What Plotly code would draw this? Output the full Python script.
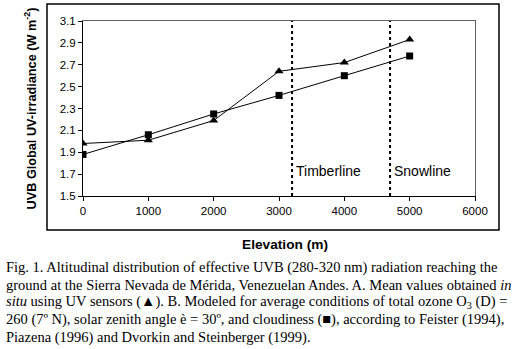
import plotly.graph_objects as go

elevation = [0, 1000, 2000, 3000, 4000, 5000]
measured_insitu = [1.98, 2.01, 2.19, 2.64, 2.72, 2.93]
modeled = [1.88, 2.06, 2.25, 2.42, 2.60, 2.78]
ref_lines = {"Timberline": 3200, "Snowline": 4700}
caption_lines = [
    "Fig. 1. Altitudinal distribution of effective UVB (280-320 nm) radiation reaching the",
    "ground at the Sierra Nevada de Mérida, Venezuelan Andes. A. Mean values obtained <i>in</i>",
    "<i>situ</i> using UV sensors (▲). B. Modeled for average conditions of total ozone O<sub>3</sub> (D) =",
    "260 (7º N), solar zenith angle è = 30º, and cloudiness (■), according to Feister (1994),",
    "Piazena (1996) and Dvorkin and Steinberger (1999).",
]

W, H = 521, 349
# outer chart frame (pixels)
FL, FR, FT, FB = 47, 499, 4, 230
# inner plot area (pixels)
PL, PR, PT, PB = 83, 475, 21, 196
FW, FH = FR - FL, FB - FT


def px(x):
    return (x - FL) / FW


def py(y):
    return (FB - y) / FH


fig = go.Figure()
fig.add_trace(go.Scatter(x=elevation, y=measured_insitu, mode="lines+markers",
                         line=dict(color="black", width=1),
                         marker=dict(symbol="triangle-up", size=8, color="black"),
                         showlegend=False))
fig.add_trace(go.Scatter(x=elevation, y=modeled, mode="lines+markers",
                         line=dict(color="black", width=1),
                         marker=dict(symbol="square", size=7, color="black"),
                         showlegend=False))
# empty helper trace so the grey top/right border axes are drawn
fig.add_trace(go.Scatter(x=[None], y=[None], xaxis="x3", yaxis="y3", showlegend=False, hoverinfo="skip"))

shapes = [
    # outer chart frame = the whole margin-bounded area
    dict(type="rect", xref="paper", yref="paper", x0=0, x1=1, y0=0, y1=1,
         line=dict(color="black", width=1.5), fillcolor="rgba(0,0,0,0)", layer="above"),
]
annotations = []
for name, xv in ref_lines.items():
    shapes.append(dict(type="line", xref="x", yref="y", x0=xv, x1=xv, y0=1.5, y1=3.1,
                       line=dict(color="black", width=2, dash="dot")))
    annotations.append(dict(x=xv, y=1.73, xref="x", yref="y", text=name, showarrow=False,
                            xanchor="left", yanchor="middle", xshift=2,
                            font=dict(family="Liberation Sans, Arial", size=14, color="black")))

annotations.append(dict(x=px(285), y=py(244), xref="paper", yref="paper",
                        text="<b>Elevation (m)</b>",
                        showarrow=False, xanchor="center", yanchor="middle",
                        font=dict(family="Liberation Sans, Arial", size=13.7, color="black")))

cap_y = [267, 284.5, 302, 319.5, 337]
for t, yy in zip(caption_lines, cap_y):
    annotations.append(dict(x=px(4), y=py(yy), xref="paper", yref="paper", text=t, showarrow=False,
                            xanchor="left", yanchor="middle",
                            font=dict(family="Liberation Serif, Times New Roman", size=14.5, color="black")))

xdom = [px(PL), px(PR)]
ydom = [py(PB), py(PT)]
hidden = dict(showticklabels=False, ticks="", showgrid=False, zeroline=False, fixedrange=True)

fig.update_layout(
    width=W, height=H,
    margin=dict(l=FL, r=W - FR, t=FT, b=H - FB, pad=0),
    paper_bgcolor="white", plot_bgcolor="rgba(0,0,0,0)",
    font=dict(family="Liberation Sans, Arial", size=11.5, color="black"),
    shapes=shapes, annotations=annotations,
    xaxis=dict(domain=xdom, anchor="y", range=[0, 6000], dtick=1000, tick0=0, showgrid=False, zeroline=False,
               showline=True, linecolor="black", linewidth=1, automargin=False,
               ticks="outside", ticklen=4, tickcolor="black"),
    yaxis=dict(domain=ydom, anchor="x", range=[1.5, 3.1], dtick=0.2, tick0=1.5, tickformat=".1f",
               showgrid=False, zeroline=False,
               showline=True, linecolor="black", linewidth=1, automargin=False,
               ticks="outside", ticklen=4, tickcolor="black",
               title=dict(text="<b>UVB Global UV-irradiance (W m<sup>-2</sup>)</b>",
                          font=dict(size=12.7), standoff=20)),
    xaxis3=dict(overlaying="x", side="top", anchor="y", range=[0, 1], showline=True,
                linecolor="#606060", linewidth=1, **hidden),
    yaxis3=dict(overlaying="y", side="right", anchor="x", range=[0, 1], showline=True,
                linecolor="#606060", linewidth=1, **hidden),
)

fig.write_html("out.html", config={"displayModeBar": False},
               post_script="document.body.style.margin='0';document.body.style.padding='0';")
